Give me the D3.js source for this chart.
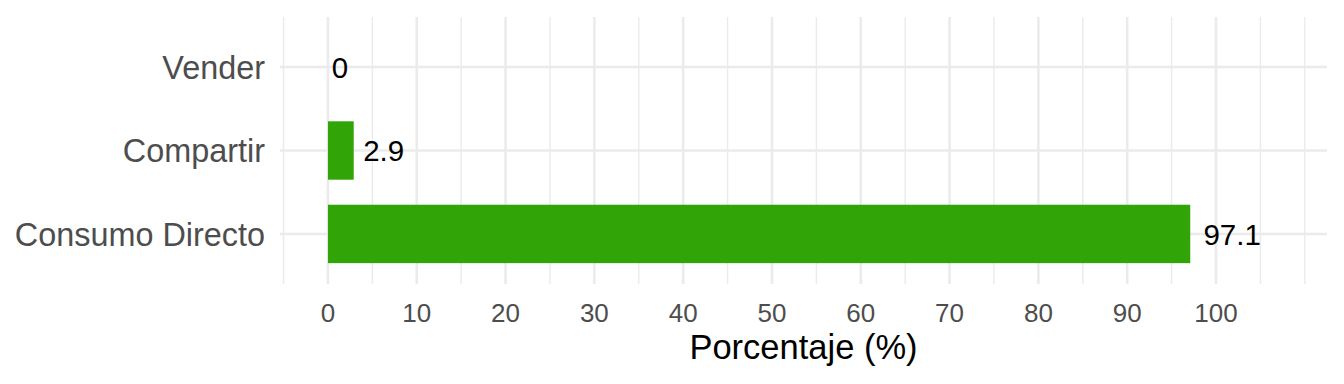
<!DOCTYPE html>
<html>
<head>
<meta charset="utf-8">
<script src="https://cdn.jsdelivr.net/npm/d3@7"></script>
<style>
  body { margin: 0; background: #fff; }
  text { font-family: "Liberation Sans", Arial, sans-serif; }
</style>
</head>
<body>
<div id="chart"></div>
<script>
// data
const categories = ["Vender", "Compartir", "Consumo Directo"];
const values = [0, 2.9, 97.1];
const majorTicks = [0, 10, 20, 30, 40, 50, 60, 70, 80, 90, 100];
const minorTicks = [-5, 5, 15, 25, 35, 45, 55, 65, 75, 85, 95, 105, 110];

const width = 1344, height = 384;
const panel = { left: 280, right: 1327, top: 17, bottom: 284 };

const svg = d3.select("#chart").append("svg")
  .attr("width", width)
  .attr("height", height);

const x = d3.scaleLinear()
  .domain([-5.4, 112.5])
  .range([panel.left, panel.right]);

// discrete scale with 0.6 expansion on both ends
const y = d3.scalePoint()
  .domain(categories)
  .range([panel.top, panel.bottom])
  .padding(0.6);
const step = y.step();
const barH = step * 0.7;

const grid = svg.append("g");

// minor vertical gridlines
grid.selectAll("line.minor")
  .data(minorTicks)
  .enter().append("line")
  .attr("x1", d => x(d)).attr("x2", d => x(d))
  .attr("y1", panel.top).attr("y2", panel.bottom)
  .attr("stroke", "#EBEBEB")
  .attr("stroke-width", 1.4);

// major vertical gridlines
grid.selectAll("line.major")
  .data(majorTicks)
  .enter().append("line")
  .attr("x1", d => x(d)).attr("x2", d => x(d))
  .attr("y1", panel.top).attr("y2", panel.bottom)
  .attr("stroke", "#EBEBEB")
  .attr("stroke-width", 2.6);

// horizontal gridlines at categories
grid.selectAll("line.hgrid")
  .data(categories)
  .enter().append("line")
  .attr("x1", panel.left).attr("x2", panel.right)
  .attr("y1", d => y(d)).attr("y2", d => y(d))
  .attr("stroke", "#EBEBEB")
  .attr("stroke-width", 2.6);

// bars
svg.selectAll("rect.bar")
  .data(categories)
  .enter().append("rect")
  .attr("x", x(0))
  .attr("y", d => y(d) - barH / 2)
  .attr("width", (d, i) => x(values[i]) - x(0))
  .attr("height", barH)
  .attr("fill", "#31A507");

// value labels (hjust a bit past the bar end)
svg.selectAll("text.val")
  .data(categories)
  .enter().append("text")
  .attr("y", d => y(d))
  .attr("dy", "0.36em")
  .attr("font-size", 29.5)
  .attr("fill", "#000")
  .text((d, i) => String(values[i]))
  .attr("x", function (d, i) {
    const w = this.getComputedTextLength();
    return x(values[i]) + w * 0.23;
  });

// y axis labels
svg.selectAll("text.ylab")
  .data(categories)
  .enter().append("text")
  .attr("x", 265)
  .attr("y", d => y(d))
  .attr("dy", "0.36em")
  .attr("text-anchor", "end")
  .attr("font-size", 32.4)
  .attr("fill", "#4D4D4D")
  .text(d => d);

// x axis labels
svg.selectAll("text.xlab")
  .data(majorTicks)
  .enter().append("text")
  .attr("x", d => x(d))
  .attr("y", 322)
  .attr("text-anchor", "middle")
  .attr("font-size", 26)
  .attr("fill", "#4D4D4D")
  .text(d => d);

// x axis title
svg.append("text")
  .attr("x", (panel.left + panel.right) / 2)
  .attr("y", 359)
  .attr("text-anchor", "middle")
  .attr("font-size", 34.5)
  .attr("fill", "#000")
  .text("Porcentaje (%)");
</script>
</body>
</html>
